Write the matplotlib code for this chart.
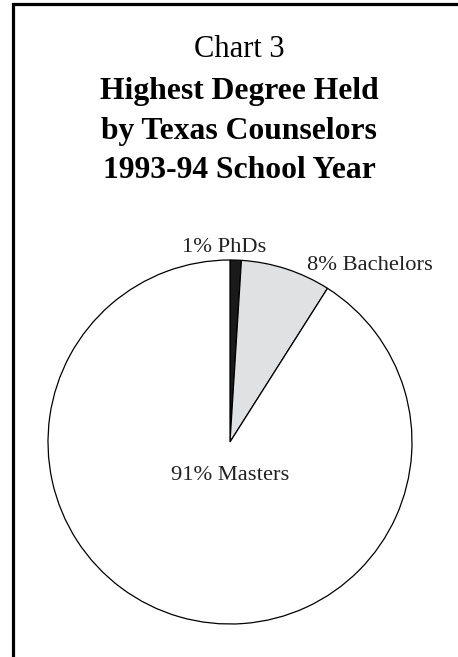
import matplotlib.pyplot as plt
from matplotlib.lines import Line2D

plt.rcParams['font.family'] = ['Liberation Serif', 'DejaVu Serif']

degrees = ['PhDs', 'Bachelors', 'Masters']
shares = [1, 8, 91]
colors = ['#1a1a1a', '#e0e1e3', 'white']

W, H = 458, 657
fig = plt.figure(figsize=(W / 100, H / 100), dpi=100)

# frame: left and top edges only (rest runs off the page)
fig.add_artist(Line2D([13 / W, 13 / W, 1.0], [0.0, 1 - 4 / H, 1 - 4 / H],
                      transform=fig.transFigure, color='black', lw=2.3,
                      solid_joinstyle='miter'))

# title block
tx = 239 / W
fig.text(tx, 1 - 57 / H, 'Chart 3', ha='center', va='baseline', fontsize=22)
title_lines = ['Highest Degree Held', 'by Texas Counselors', '1993-94 School Year']
for line, base in zip(title_lines, [99, 138.5, 178]):
    fig.text(tx, 1 - base / H, line, ha='center', va='baseline',
             fontsize=22.8, fontweight='bold')

# pie, centred at (230, 442) px with radius 182 px
cx, cy, r = 230, 442, 182
ax = fig.add_axes([(cx - r) / W, (H - cy - r) / H, 2 * r / W, 2 * r / H])
ax.pie(shares, colors=colors, startangle=90, counterclock=False, radius=1,
       wedgeprops=dict(edgecolor='black', linewidth=0.9))
ax.set_xlim(-1, 1)
ax.set_ylim(-1, 1)
ax.set_aspect('equal')
ax.axis('off')

label_pos = [(-0.03, 1.044), (0.77, 0.945), (0.0, -0.209)]
for name, val, (x, y) in zip(degrees, shares, label_pos):
    ax.text(x, y, f'{val}% {name}', ha='center', va='baseline', fontsize=16.2,
            color='#222222', clip_on=False)

fig.savefig('out.png', dpi=100)
